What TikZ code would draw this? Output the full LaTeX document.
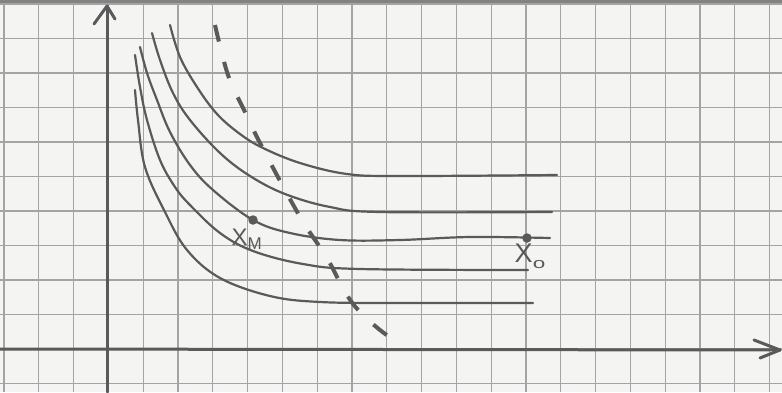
\documentclass[tikz,border=0pt]{standalone}
\usepackage{fontspec}
\setmainfont{Liberation Sans}
\definecolor{paper}{HTML}{F4F4F2}
\definecolor{gridc}{HTML}{A4A4A4}
\definecolor{pencil}{HTML}{5A5A5A}
\begin{document}
\begin{tikzpicture}[x=1pt,y=-1pt,
  gridline/.style={draw=gridc, line width=1.3pt},
  pencilline/.style={draw=pencil, line width=2.2pt, line cap=round, line join=round},
  axisline/.style={draw=pencil, line width=3pt, line cap=round, line join=round},
  dashline/.style={draw=pencil, line width=4pt, dash pattern=on 17pt off 21pt},
  pt/.style={circle, fill=pencil, inner sep=0pt, minimum size=9.5pt},
  lbl/.style={text=pencil, inner sep=0pt}]
\useasboundingbox (0,0) rectangle (782,392);
\fill[paper] (0,0) rectangle (782,392);
% grid
\foreach \k in {0,...,22} { \draw[gridline] ({4+34.8*\k},0) -- ({4+34.8*\k},392); }
\foreach \k in {-1,...,10} { \draw[gridline] (0,{349-34.5*\k}) -- (782,{349-34.5*\k}); }
\draw[draw=gridc!80!black, line width=3pt] (0,1.5) -- (782,1.5);
% axes
\coordinate (yb) at (107,392);
\coordinate (yt) at (107,6);
\coordinate (xl) at (0,349);
\coordinate (xr) at (780,350);
\draw[axisline] (yb) -- (yt);
\draw[axisline] (94,24) -- (yt) -- (115,19);
\draw[axisline] (xl) -- (xr);
\draw[axisline] (754,340) -- (xr) -- (760,358);
% indifference curves
\draw[pencilline] plot[smooth, tension=0.6] coordinates {(170,25) (180,57) (197,87) (217,114) (240,134) (263,148) (300,163) (347,174) (400,176) (557,175)};
\draw[pencilline] plot[smooth, tension=0.6] coordinates {(152,33) (160,60) (173,93) (190,120) (220,153) (250,176) (285,194) (330,207) (380,212) (552,212)};
\draw[pencilline] plot[smooth, tension=0.6] coordinates {(140,47) (147,73) (157,100) (170,132) (190,165) (213,190) (253,220) (290,233) (340,240) (400,240) (470,237) (550,238)};
\draw[pencilline] plot[smooth, tension=0.6] coordinates {(135,55) (140,87) (147,120) (160,160) (175,187) (190,205) (220,233) (253,251) (303,264) (360,269) (528,270)};
\draw[pencilline] plot[smooth, tension=0.6] coordinates {(135,90) (138,120) (145,167) (165,212) (187,250) (220,278) (270,296) (320,302) (400,303) (533,303)};
% dashed curve
\draw[dashline] plot[smooth, tension=0.6] coordinates {(215,25) (228,75) (245,112) (260,143) (285,190) (305,225) (327,258) (345,292) (360,312) (380,330) (397,342)};
% points
\node[pt] (xm) at (253,220) {};
\node[pt] (xo) at (527,238) {};
\node[lbl, anchor=north east] (xmlbl) at (262,229) {\fontsize{24}{24}\selectfont X\raisebox{-4pt}{\fontsize{17}{17}\selectfont M}};
\node[lbl, anchor=north] (xolbl) at (530,244) {\fontsize{27}{27}\selectfont X\raisebox{-6pt}{\fontsize{15}{15}\selectfont\scalebox{1.5}[1]{o}}};
\end{tikzpicture}
\end{document}
